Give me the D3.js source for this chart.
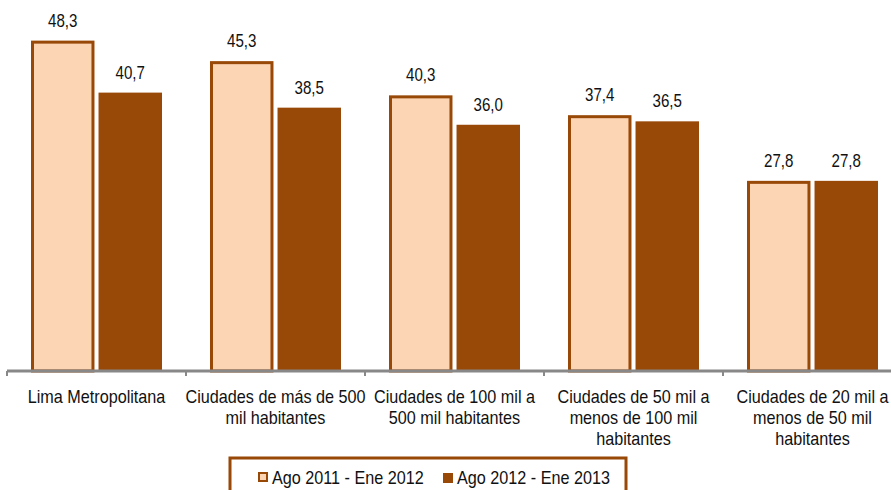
<!DOCTYPE html>
<html>
<head>
<meta charset="utf-8">
<script src="https://cdn.jsdelivr.net/npm/d3@7"></script>
<style>
  body { margin: 0; background: #fff; }
  svg { display: block; }
  text { font-family: "Liberation Sans", Arial, sans-serif; fill: #111; }
</style>
</head>
<body>
<script>
// chart data
var categories = [
    ["Lima Metropolitana"],
    ["Ciudades de más de 500", "mil habitantes"],
    ["Ciudades de 100 mil a", "500 mil habitantes"],
    ["Ciudades de 50 mil a", "menos de 100 mil", "habitantes"],
    ["Ciudades de 20 mil a", "menos de 50 mil", "habitantes"]
];
var seriesNames = ["Ago 2011 - Ene 2012", "Ago 2012 - Ene 2013"];
var values2012 = [48.3, 45.3, 40.3, 37.4, 27.8];
var values2013 = [40.7, 38.5, 36.0, 36.5, 27.8];

var width = 891, height = 490;
var light = "#fcd5b5", dark = "#984807";

var svg = d3.select("body").append("svg")
    .attr("width", width)
    .attr("height", height);

var x = d3.scaleBand()
    .domain(d3.range(categories.length))
    .range([7, 902]);

var x1 = d3.scaleBand()
    .domain([0, 1])
    .range([24, x.bandwidth() - 24])
    .paddingInner(0.06);

var y = d3.scaleLinear()
    .domain([0, 50])
    .range([371, 29]);

var fmt = function (v) { return d3.format(".1f")(v).replace(".", ","); };

// no Arial Narrow here, squeeze the glyphs instead
function place(px, py, sx) {
    return "translate(" + px + "," + py + ") scale(" + sx + ",1)";
}

var data = [];
values2012.forEach(function (v, i) {
    data.push({ cat: i, s: 0, value: v });
    data.push({ cat: i, s: 1, value: values2013[i] });
});

// bars
svg.append("g").selectAll("rect")
    .data(data)
    .enter().append("rect")
    .attr("x", function (d) { return x(d.cat) + x1(d.s) + (d.s === 0 ? 1.5 : 0); })
    .attr("y", function (d) { return y(d.value) + (d.s === 0 ? 1.5 : 0); })
    .attr("width", function (d) { return x1.bandwidth() - (d.s === 0 ? 3 : 0); })
    .attr("height", function (d) { return y(0) - y(d.value) - (d.s === 0 ? 1.5 : 0); })
    .attr("fill", function (d) { return d.s === 0 ? light : dark; })
    .attr("stroke", function (d) { return d.s === 0 ? dark : "none"; })
    .attr("stroke-width", 3);

// value labels
svg.append("g").selectAll("text")
    .data(data)
    .enter().append("text")
    .attr("transform", function (d) {
        return place(x(d.cat) + x1(d.s) + x1.bandwidth() / 2, y(d.value) - 14, 0.84);
    })
    .attr("text-anchor", "middle")
    .style("font-size", "18px")
    .text(function (d) { return fmt(d.value); });

// x axis
var axis = svg.append("g")
    .attr("transform", "translate(0," + y(0) + ")")
    .call(d3.axisBottom(x).tickSize(0).tickFormat(""));
axis.select(".domain").attr("stroke", "#888").attr("stroke-width", 3).attr("d", "M7,0H902");
axis.selectAll(".tick").remove();

axis.selectAll(".sep")
    .data(d3.range(categories.length + 1))
    .enter().append("line")
    .attr("x1", function (d) { return 7 + d * x.step(); })
    .attr("x2", function (d) { return 7 + d * x.step(); })
    .attr("y1", 0)
    .attr("y2", 5)
    .attr("stroke", "#888")
    .attr("stroke-width", 2);

// category labels
var labels = svg.append("g").selectAll("text")
    .data(categories)
    .enter().append("text")
    .attr("text-anchor", "middle")
    .attr("transform", function (d, i) { return place(x(i) + x.bandwidth() / 2, 403, 0.9); })
    .style("font-size", "18px");
labels.selectAll("tspan")
    .data(function (d) { return d; })
    .enter().append("tspan")
    .attr("x", 0)
    .attr("dy", function (d, i) { return i === 0 ? 0 : 21; })
    .text(function (d) { return d; });

// legend
var legend = svg.append("g");
legend.append("rect")
    .attr("x", 230).attr("y", 458)
    .attr("width", 396).attr("height", 40)
    .attr("fill", "#fff")
    .attr("stroke", dark)
    .attr("stroke-width", 3);

var legendX = [258, 443];
seriesNames.forEach(function (name, i) {
    legend.append("rect")
        .attr("x", legendX[i] + (i === 0 ? 1 : 0))
        .attr("y", 473)
        .attr("width", i === 0 ? 8 : 10)
        .attr("height", i === 0 ? 8 : 10)
        .attr("fill", i === 0 ? light : dark)
        .attr("stroke", i === 0 ? dark : "none")
        .attr("stroke-width", 2);
    legend.append("text")
        .attr("transform", place(legendX[i] + 14, 484, 0.9))
        .style("font-size", "18px")
        .text(name);
});
</script>
</body>
</html>
